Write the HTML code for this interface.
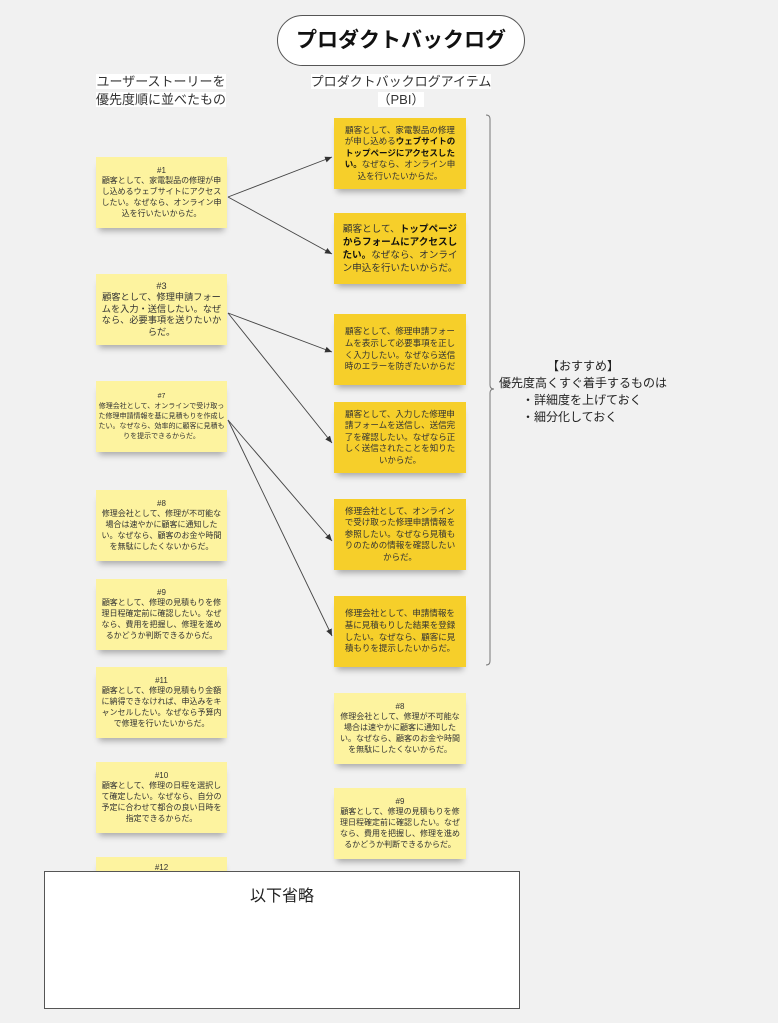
<!DOCTYPE html>
<html><head><meta charset="utf-8"><style>
body{margin:0;width:778px;height:1023px;background:#f1f1f1;position:relative;overflow:hidden;font-family:"Liberation Sans","Noto Sans CJK JP",sans-serif;color:#333}
.n{position:absolute;width:131px;height:71px;background:#fdf39f;box-shadow:0 6px 6px -3px rgba(0,0,0,.3);font-size:8px;line-height:10.8px;text-align:center;display:flex;align-items:center;justify-content:center;box-sizing:border-box;padding:0 3px}
.n>div{width:100%}
.r{left:334px;width:132px;background:#f6cf2a;font-size:8.5px;line-height:11.6px;padding:0 9px}
.r2{left:334px;width:132px}
.l{left:96px}
.lab{position:absolute;background:#fff;font-size:13px;color:#333;line-height:18px;text-align:center;white-space:nowrap}
b{color:#111}
</style></head><body>
<div style="position:absolute;left:277px;top:15px;width:246px;height:49px;border:1px solid #555;border-radius:26px;background:#fff;text-align:center;line-height:49px;font-size:21px;font-weight:bold;color:#111">プロダクトバックログ</div>
<div class="lab" style="left:96px;top:73px;width:130px;background:none"><span style="background:#fff">ユーザーストーリーを</span><br><span style="background:#fff">優先度順に並べたもの</span></div>
<div class="lab" style="left:310px;top:73px;width:182px;background:none"><span style="background:#fff">プロダクトバックログアイテム</span><br><span style="background:#fff">（PBI）</span></div>

<div class="n l" style="top:157px"><div>#1<br>顧客として、家電製品の修理が申し込めるウェブサイトにアクセスしたい。なぜなら、オンライン申込を行いたいからだ。</div></div>
<div class="n l" style="top:274px;font-size:9.2px;line-height:11.6px;padding:0 4px"><div>#3<br>顧客として、修理申請フォームを入力・送信したい。なぜなら、必要事項を送りたいからだ。</div></div>
<div class="n l" style="top:381px;font-size:7px;line-height:10px;padding:0 2px"><div>#7<br>修理会社として、オンラインで受け取った修理申請情報を基に見積もりを作成したい。なぜなら、効率的に顧客に見積もりを提示できるからだ。</div></div>
<div class="n l" style="top:490px"><div>#8<br>修理会社として、修理が不可能な場合は速やかに顧客に通知したい。なぜなら、顧客のお金や時間を無駄にしたくないからだ。</div></div>
<div class="n l" style="top:579px"><div>#9<br>顧客として、修理の見積もりを修理日程確定前に確認したい。なぜなら、費用を把握し、修理を進めるかどうか判断できるからだ。</div></div>
<div class="n l" style="top:667px"><div>#11<br>顧客として、修理の見積もり金額に納得できなければ、申込みをキャンセルしたい。なぜなら予算内で修理を行いたいからだ。</div></div>
<div class="n l" style="top:762px"><div>#10<br>顧客として、修理の日程を選択して確定したい。なぜなら、自分の予定に合わせて都合の良い日時を指定できるからだ。</div></div>
<div class="n l" style="top:857px;align-items:flex-start;padding-top:6px"><div>#12</div></div>

<div class="n r" style="top:118px"><div>顧客として、家電製品の修理が申し込める<b>ウェブサイトのトップページにアクセスしたい。</b>なぜなら、オンライン申込を行いたいからだ。</div></div>
<div class="n r" style="top:213px;font-size:9.6px;line-height:13px;padding:0 5px"><div>顧客として、<b>トップページからフォームにアクセスしたい。</b>なぜなら、オンライン申込を行いたいからだ。</div></div>
<div class="n r" style="top:314px"><div>顧客として、修理申請フォームを表示して必要事項を正しく入力したい。なぜなら送信時のエラーを防ぎたいからだ</div></div>
<div class="n r" style="top:402px"><div>顧客として、入力した修理申請フォームを送信し、送信完了を確認したい。なぜなら正しく送信されたことを知りたいからだ。</div></div>
<div class="n r" style="top:499px"><div>修理会社として、オンラインで受け取った修理申請情報を参照したい。なぜなら見積もりのための情報を確認したいからだ。</div></div>
<div class="n r" style="top:596px"><div>修理会社として、申請情報を基に見積もりした結果を登録したい。なぜなら、顧客に見積もりを提示したいからだ。</div></div>
<div class="n r2" style="top:693px"><div>#8<br>修理会社として、修理が不可能な場合は速やかに顧客に通知したい。なぜなら、顧客のお金や時間を無駄にしたくないからだ。</div></div>
<div class="n r2" style="top:788px"><div>#9<br>顧客として、修理の見積もりを修理日程確定前に確認したい。なぜなら、費用を把握し、修理を進めるかどうか判断できるからだ。</div></div>

<svg style="position:absolute;left:0;top:0" width="778" height="1023">
<defs><marker id="a" markerWidth="8" markerHeight="8" refX="7" refY="4" orient="auto" markerUnits="userSpaceOnUse"><path d="M0,1 L7,4 L0,7z" fill="#333"/></marker></defs>
<g stroke="#444" stroke-width="0.9" fill="none" marker-end="url(#a)">
<line x1="228" y1="197" x2="332" y2="157"/>
<line x1="228" y1="197" x2="332" y2="254"/>
<line x1="228" y1="313" x2="332" y2="352"/>
<line x1="228" y1="313" x2="332" y2="443"/>
<line x1="228" y1="420" x2="332" y2="541"/>
<line x1="228" y1="420" x2="332" y2="636"/>
</g>
<path d="M486,115 Q490,115 490,119 L490,385 Q490,389 494,389 Q490,389 490,393 L490,661 Q490,665 486,665" stroke="#777" stroke-width="1" fill="none"/>
</svg>
<div style="position:absolute;left:498px;top:358px;width:170px;font-size:12px;line-height:17px;color:#222;text-align:center">【おすすめ】<br>優先度高くすぐ着手するものは<br><div style="text-align:left;padding-left:24px">・詳細度を上げておく<br>・細分化しておく</div></div>

<div style="position:absolute;left:44px;top:871px;width:476px;height:138px;background:#fff;border:1px solid #555;text-align:center;font-size:16px;padding-top:10px;box-sizing:border-box;color:#222">以下省略</div>
</body></html>
